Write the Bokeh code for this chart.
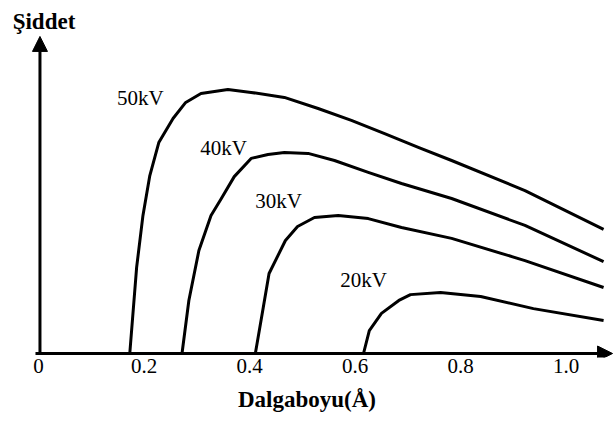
from bokeh.plotting import figure
from bokeh.models import Range1d, FixedTicker, Arrow, NormalHead, Label
from bokeh.embed import file_html
from bokeh.resources import INLINE
from bokeh.core.properties import value

# ---- data ----
tick_values = [0, 0.2, 0.4, 0.6, 0.8, 1.0]
tick_labels = ["0", "0.2", "0.4", "0.6", "0.8", "1.0"]
series_names = ["50kV", "40kV", "30kV", "20kV"]

wl_50 = [0.173, 0.186, 0.198, 0.211, 0.228, 0.255, 0.279, 0.308, 0.359, 0.403,
         0.466, 0.530, 0.593, 0.656, 0.721, 0.783, 0.922, 1.071]
I_50 = [0.0, 3.26, 5.23, 6.74, 7.99, 8.90, 9.51, 9.85, 10.0, 9.89,
        9.70, 9.28, 8.83, 8.33, 7.80, 7.31, 6.17, 4.70]

wl_40 = [0.272, 0.285, 0.304, 0.327, 0.346, 0.371, 0.403, 0.435, 0.466, 0.511,
         0.561, 0.625, 0.688, 0.783, 0.922, 1.071]
I_40 = [0.0, 2.01, 3.90, 5.23, 5.85, 6.70, 7.39, 7.54, 7.61, 7.58,
        7.31, 6.86, 6.44, 5.87, 4.85, 3.48]

wl_30 = [0.411, 0.426, 0.437, 0.468, 0.491, 0.523, 0.568, 0.625, 0.688, 0.783,
         0.922, 1.071]
I_30 = [0.0, 1.74, 3.03, 4.28, 4.81, 5.15, 5.23, 5.11, 4.77, 4.36,
        3.52, 2.50]

wl_20 = [0.616, 0.627, 0.650, 0.683, 0.705, 0.762, 0.838, 0.938, 1.071]
I_20 = [0.0, 0.87, 1.52, 2.01, 2.23, 2.31, 2.16, 1.70, 1.25]

curves = [(wl_50, I_50), (wl_40, I_40), (wl_30, I_30), (wl_20, I_20)]

# ---- layout / style (not data) ----
label_x = [0.193, 0.351, 0.455, 0.616]
label_y = [9.66, 7.77, 5.76, 2.77]
FONT = "Liberation Serif"

p = figure(width=613, height=421,
           x_range=Range1d(-0.0720, 1.0898), y_range=Range1d(-0.1515, 13.371),
           output_backend="svg", toolbar_location=None, y_axis_location=None,
           min_border_left=0, min_border_right=0, min_border_top=0,
           min_border_bottom=64)
p.xgrid.visible = False
p.ygrid.visible = False
p.outline_line_color = None
p.background_fill_color = "white"
p.border_fill_color = "white"

xa = p.xaxis[0]
xa.ticker = FixedTicker(ticks=tick_values)
xa.major_label_overrides = dict(zip(tick_values, tick_labels))
xa.axis_line_color = None
xa.major_tick_line_color = None
xa.minor_tick_line_color = None
xa.major_tick_out = 0
xa.major_tick_in = 0
xa.major_label_standoff = 1
xa.major_label_text_font = FONT
xa.major_label_text_font_size = "21px"
xa.major_label_text_color = "black"
xa.axis_label = "Dalgaboyu(Å)"
xa.axis_label_text_font = FONT
xa.axis_label_text_font_style = "bold"
xa.axis_label_text_font_size = "23px"
xa.axis_label_text_color = "black"
xa.axis_label_standoff = 11

for wl, inten in curves:
    p.line(wl, inten, line_width=3, line_color="black", line_join="round")

p.text(x=label_x, y=label_y, text=series_names, text_font=value(FONT),
       text_font_size="21px", text_align="center", text_baseline="middle",
       text_color="black")

p.add_layout(Arrow(end=NormalHead(size=15, fill_color="black", line_color="black"),
                   x_start=-0.0057, y_start=0, x_end=1.088, y_end=0,
                   line_width=3, line_color="black"))
p.add_layout(Arrow(end=NormalHead(size=15, fill_color="black", line_color="black"),
                   x_start=0.0028, y_start=0, x_end=0.0028, y_end=12.01,
                   line_width=3, line_color="black"))

p.add_layout(Label(x=0.0104, y=12.58, text="Şiddet", text_font=FONT,
                   text_font_style="bold", text_font_size="23px",
                   text_align="center", text_baseline="alphabetic",
                   text_color="black"))

open("out.html", "w").write(file_html(p, INLINE))
